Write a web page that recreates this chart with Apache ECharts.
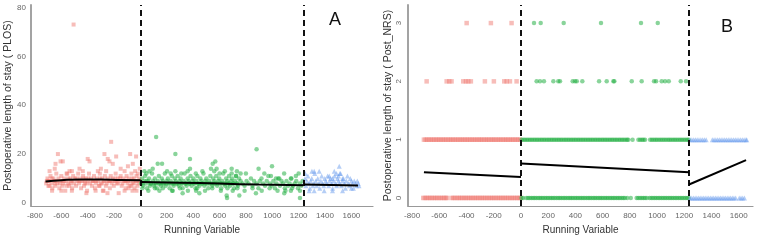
<!DOCTYPE html>
<html>
<head>
<meta charset="utf-8">
<script src="https://cdn.jsdelivr.net/npm/echarts@6/dist/echarts.min.js"></script>
<style>
  html, body { margin: 0; padding: 0; background: #fff; }
  #chart { width: 767px; height: 240px; }
</style>
</head>
<body>
<div id="chart"></div>
<script>
// tick labels
const xTicks = [-800, -600, -400, -200, 0, 200, 400, 600, 800, 1000, 1200, 1400, 1600]
const plosTicks = [0, 20, 40, 60, 80]
const nrsTicks = [0, 1, 2, 3]
const cutoffs = [0, 1235]

// panel A: PLOS points [running variable, days]
const plosPre = [
  [-715,8],[-705,10],[-698,7],[-690,9],[-682,11],[-675,8],[-668,6],[-660,10],[-652,9],[-645,7],[-638,12],[-630,8],
  [-622,10],[-615,6],[-608,9],[-600,11],[-592,7],[-585,8],[-578,10],[-570,5],[-562,9],[-555,12],[-548,8],[-540,7],
  [-532,10],[-525,9],[-518,6],[-510,11],[-502,8],[-495,10],[-488,7],[-480,9],[-472,12],[-465,8],[-458,10],[-450,6],
  [-442,9],[-435,11],[-428,7],[-420,8],[-412,10],[-405,5],[-398,9],[-390,12],[-382,8],[-375,10],[-368,7],[-360,9],
  [-352,11],[-345,6],[-338,8],[-330,10],[-322,9],[-315,7],[-308,12],[-300,8],[-292,10],[-285,5],[-278,9],[-270,11],
  [-262,7],[-255,8],[-248,10],[-240,9],[-232,6],[-225,11],[-218,8],[-210,10],[-202,7],[-195,9],[-188,12],[-180,8],
  [-172,10],[-165,4],[-158,9],[-150,11],[-142,7],[-135,8],[-128,10],[-120,9],[-112,6],[-105,11],[-98,8],[-90,10],
  [-82,7],[-75,9],[-68,12],[-60,8],[-52,10],[-45,6],[-38,9],[-30,11],[-22,7],[-15,8],[-8,10],[-3,9],
  [-710,9],[-650,8],[-590,9],[-530,8],[-470,9],[-410,8],[-350,9],[-290,8],[-230,9],[-170,8],[-110,9],[-50,8],
  [-690,7],[-560,7],[-430,10],[-310,7],[-190,10],[-70,7],
  [-700,9],[-672,10],[-640,9],[-612,8],[-580,9],[-548,10],[-515,9],[-485,10],[-455,9],[-425,9],[-395,10],[-365,9],
  [-335,9],[-305,10],[-275,9],[-245,9],[-215,9],[-185,9],[-155,10],[-125,9],[-95,9],[-65,10],[-35,9],[-12,9],
  [-507,73],[-222,25],[-626,20],[-644,16],[-606,17],[-589,17],[-400,18],[-386,17],[-273,20],[-184,19],[-248,18],
  [-235,17],[-210,16],[-78,20],[-33,19],[-58,16],[-5,14],[-462,14],[-437,13],[-538,13],[-689,13],[-323,13],
  [-650,14],[-560,12],[-520,13],[-300,14],[-260,13],[-150,14],[-120,13],[-95,15],[-40,13],[-20,12],
  [-670,5],[-600,5],[-520,5],[-410,4],[-340,5],[-280,5],[-250,4],[-120,5],[-90,6],[-60,5],[-30,5]
]
const plosMid = [
  [5,8],[12,10],[20,7],[28,9],[35,11],[42,8],[50,6],[58,9],[65,10],[72,7],[80,8],[88,12],[95,9],[102,7],[110,10],
  [118,8],[125,6],[132,9],[140,11],[148,8],[155,7],[162,10],[170,9],[178,8],[185,12],[192,7],[200,9],[208,10],
  [215,8],[222,6],[230,9],[238,11],[245,8],[252,7],[260,10],[268,9],[275,8],[282,11],[290,7],[298,9],[305,10],
  [312,8],[320,6],[328,9],[335,12],[342,8],[350,7],[358,10],[365,9],[372,8],[380,11],[388,7],[395,9],[402,10],
  [410,8],[418,6],[425,9],[432,11],[440,8],[448,7],[455,10],[462,9],[470,8],[478,12],[485,7],[492,9],[500,10],
  [508,8],[515,6],[522,9],[530,11],[538,8],[545,7],[552,10],[560,9],[568,8],[575,11],[582,7],[590,9],[598,10],
  [605,8],[612,6],[620,9],[628,12],[635,8],[642,7],[650,10],[658,9],[665,8],[672,11],[680,7],[688,9],[695,10],
  [702,8],[710,6],[718,9],[725,11],[732,8],[740,7],[748,10],[760,9],[775,8],[790,7],[805,9],[820,8],[838,10],
  [850,7],[862,9],[880,8],[895,6],[905,9],[918,10],[930,8],[945,7],[958,9],[970,11],[982,8],[995,7],[1008,9],
  [1020,6],[1032,8],[1045,10],[1058,7],[1070,9],[1082,8],[1095,6],[1108,9],[1120,7],[1132,8],[1145,10],[1158,7],
  [1170,8],[1182,9],[1195,6],[1208,8],[1220,7],[1230,9],
  [15,8],[45,9],[75,8],[105,8],[135,8],[165,8],[195,8],[225,8],[255,8],[285,8],[315,8],[345,8],[375,8],[405,8],
  [435,8],[465,8],[495,8],[525,8],[555,8],[585,8],[615,8],[645,8],[675,8],[705,8],[735,8],
  [15,6],[60,5],[110,6],[170,6],[240,5],[300,6],[360,5],[430,6],[490,5],[545,6],[610,5],[660,6],[700,5],[735,6],
  [790,5],[850,6],[920,5],[980,6],[1040,5],[1100,5],[1150,6],[1210,5],
  [119,27],[881,22],[265,20],[376,18],[164,16],[131,16],[93,14],[68,13],[202,13],[265,13],[358,13],[376,14],
  [548,16],[568,17],[535,14],[560,13],[578,14],[896,14],[998,15],[692,14],[732,13],[692,12],[725,11],[990,11],
  [1028,10],[1053,10],[1141,10],[1179,11],[654,3],[657,2],[1210,2],[144,5],[245,5],[320,4],[422,5],[447,4],
  [750,3],[876,4],[1091,4],[1141,5],[30,13],[45,12],[230,12],[310,12],[420,12],[470,13],[600,12],[640,13],
  [760,12],[800,12],[940,12],[1090,12],[1200,12]
]
const plosPost = [
  [1240,8],[1248,10],[1255,7],[1262,9],[1270,11],[1278,8],[1285,6],[1292,9],[1300,10],[1308,7],[1315,8],[1322,12],
  [1330,9],[1338,7],[1345,10],[1352,8],[1360,6],[1368,9],[1375,11],[1382,8],[1390,7],[1398,10],[1405,9],[1412,8],
  [1420,11],[1428,7],[1435,9],[1442,10],[1450,8],[1458,6],[1465,9],[1472,11],[1480,8],[1488,7],[1495,10],[1502,9],
  [1510,8],[1518,12],[1525,7],[1532,9],[1540,10],[1548,8],[1555,6],[1562,9],[1570,11],[1578,8],[1585,7],[1592,10],
  [1600,9],[1608,8],[1615,6],[1622,9],[1630,8],[1638,7],[1645,9],[1652,8],[1658,7],
  [1508,15],[1301,13],[1318,13],[1356,13],[1250,12],[1470,13],[1487,12],[1513,12],[1502,11],[1432,11],[1457,10],
  [1533,10],[1318,5],[1394,5],[1457,5],[1533,5],[1280,5],[1600,6]
]
const plosFitPre = [[-720,8.8],[-600,9.3],[-450,9.6],[-300,9.6],[-150,9.4],[0,9.3]]
const plosFitMid = [[0,8.6],[300,8.3],[600,7.9],[900,7.5],[1235,7.2]]
const plosFitPost = [[1240,7.5],[1450,7.3],[1650,7.1]]

// panel B: Post_NRS, running variable values at each score
const nrsPre0 = [-718,-706,-693,-680,-668,-655,-641,-629,-616,-603,-590,-577,-564,-552,-543,-510,-497,-484,-470,-457,
  -445,-431,-418,-406,-392,-379,-366,-353,-340,-327,-314,-301,-288,-275,-262,-249,-236,-223,-210,-197,-184,-171,
  -158,-145,-132,-119,-106,-93,-80,-67,-54,-41,-28,-15,-4]
const nrsPre1 = [-713,-701,-688,-676,-663,-650,-638,-625,-613,-600,-588,-575,-562,-550,-537,-524,-512,-499,-487,
  -474,-461,-449,-436,-423,-411,-398,-386,-373,-360,-348,-335,-322,-310,-297,-285,-272,-259,-247,-234,-221,-209,
  -196,-184,-171,-158,-146,-133,-120,-108,-95,-83,-70,-57,-45,-32,-19,-7]
const nrsPre2 = [-693,-546,-527,-510,-424,-404,-387,-368,-265,-199,-123,-105,-81,-32]
const nrsPre3 = [-399,-221,-69]
const nrsMid0 = [4,16,40,52,64,77,89,101,113,126,138,150,162,175,187,199,212,224,236,248,261,273,285,297,310,322,
  334,347,359,371,383,396,408,420,433,445,457,469,482,494,506,518,531,543,555,568,580,592,604,617,629,641,654,666,
  678,690,703,715,727,740,752,764,781,807,850,862,875,888,900,912,925,945,958,970,983,995,1008,1020,1033,1045,
  1058,1070,1083,1095,1108,1120,1133,1145,1158,1170,1183,1195,1208,1220,1232]
const nrsMid1 = [5,18,30,43,55,68,80,93,105,118,130,143,155,168,180,193,205,218,230,243,255,268,280,293,305,318,
  330,343,355,368,380,393,405,418,430,443,455,468,480,493,505,518,530,543,555,568,580,593,605,618,630,643,655,668,
  680,693,705,718,730,743,755,768,780,789,820,863,876,889,900,912,949,962,975,988,1000,1014,1027,1040,1053,1066,
  1080,1092,1105,1118,1131,1144,1157,1170,1183,1196,1209,1222,1232]
const nrsMid2 = [115,140,169,238,274,287,380,397,410,451,574,630,679,686,814,887,978,993,1034,1059,1086,1174,1213]
const nrsMid3 = [96,145,314,588,882,1005]
const nrsPost0 = [1243,1255,1268,1280,1292,1305,1317,1330,1342,1354,1367,1379,1392,1404,1416,1429,1441,1454,1466,
  1478,1491,1503,1516,1528,1540,1553,1565,1578,1604,1617,1629,1642]
const nrsPost1 = [1243,1256,1269,1282,1295,1308,1322,1335,1348,1361,1406,1419,1432,1445,1458,1471,1484,1497,1510,
  1523,1536,1549,1562,1575,1588,1601,1614,1627,1640,1653,1659]
const nrsFitPre = [[-713,0.44],[0,0.36]]
const nrsFitMid = [[0,0.59],[1235,0.44]]
const nrsFitPost = [[1235,0.23],[1654,0.65]]

const red = 'rgba(238,118,108,0.6)'
const green = 'rgba(28,172,62,0.65)'
const blue = 'rgba(100,152,236,0.6)'
const font = 'Liberation Sans'

function levels(lists) {
  const out = []
  lists.forEach((xs, score) => xs.forEach(x => out.push([x, score])))
  return out
}

const nrsPre = levels([nrsPre0, nrsPre1, nrsPre2, nrsPre3])
const nrsMid = levels([nrsMid0, nrsMid1, nrsMid2, nrsMid3])
const nrsPost = levels([nrsPost0, nrsPost1])

function xAxis(grid, min, max) {
  return {
    type: 'value', gridIndex: grid, min: min, max: max,
    name: 'Running Variable', nameLocation: 'middle', nameGap: 14,
    nameTextStyle: { fontFamily: font, fontSize: 10, color: '#333' },
    axisLine: { onZero: false, lineStyle: { color: '#999', width: 1.2 } },
    axisTick: { show: false },
    splitLine: { show: false },
    axisLabel: { customValues: xTicks, formatter: v => String(v), fontFamily: font, fontSize: 8, color: '#666', margin: 6 }
  }
}

function yAxis(grid, min, max, ticks, name, rotate, gap) {
  return {
    type: 'value', gridIndex: grid, min: min, max: max,
    name: name, nameLocation: 'middle', nameGap: gap,
    nameTextStyle: { fontFamily: font, fontSize: 10.5, color: '#333' },
    axisLine: { show: true, onZero: false, lineStyle: { color: '#999', width: 1.8 } },
    axisTick: { show: false },
    splitLine: { show: false },
    axisLabel: { customValues: ticks, formatter: v => String(v), fontFamily: font, fontSize: 8, color: '#666', margin: 5, rotate: rotate }
  }
}

function dots(grid, data, symbol, size, color, withCuts) {
  const s = {
    type: 'scatter', xAxisIndex: grid, yAxisIndex: grid, data: data,
    symbol: symbol, symbolSize: size, itemStyle: { color: color }, silent: true
  }
  if (withCuts) {
    s.markLine = {
      silent: true, symbol: 'none', label: { show: false },
      lineStyle: { color: '#111', type: [6, 4], width: 2 },
      data: cutoffs.map(c => ({ xAxis: c }))
    }
  }
  return s
}

function fit(grid, data) {
  return {
    type: 'line', xAxisIndex: grid, yAxisIndex: grid, data: data, smooth: true,
    showSymbol: false, lineStyle: { color: '#000', width: 2 }, silent: true, z: 5
  }
}

const chart = echarts.init(document.getElementById('chart'))
chart.setOption({
  animation: false,
  title: [
    { text: 'A', left: 324, top: 6, textStyle: { fontFamily: font, fontSize: 18, fontWeight: 'normal', color: '#111' } },
    { text: 'B', left: 716, top: 13, textStyle: { fontFamily: font, fontSize: 18, fontWeight: 'normal', color: '#111' } }
  ],
  grid: [
    { left: 31, right: 394, top: 5, bottom: 32 },
    { left: 408, right: 14, top: 5, bottom: 33 }
  ],
  xAxis: [xAxis(0, -830, 1764), xAxis(1, -830, 1705)],
  yAxis: [
    yAxis(0, -1.3, 81, plosTicks, 'Postoperative length of stay ( PLOS)', 0, 16),
    yAxis(1, -0.14, 3.31, nrsTicks, 'Postoperative length of stay ( Post_NRS)', 90, 14)
  ],
  series: [
    dots(0, plosPre, 'rect', 4, red, true),
    dots(0, plosMid, 'circle', 4.5, green, false),
    dots(0, plosPost, 'triangle', 5, blue, false),
    fit(0, plosFitPre), fit(0, plosFitMid), fit(0, plosFitPost),
    dots(1, nrsPre, 'rect', 4.5, red, true),
    dots(1, nrsMid, 'circle', 4.5, green, false),
    dots(1, nrsPost, 'triangle', 5, blue, false),
    fit(1, nrsFitPre), fit(1, nrsFitMid), fit(1, nrsFitPost)
  ]
})
</script>
</body>
</html>
